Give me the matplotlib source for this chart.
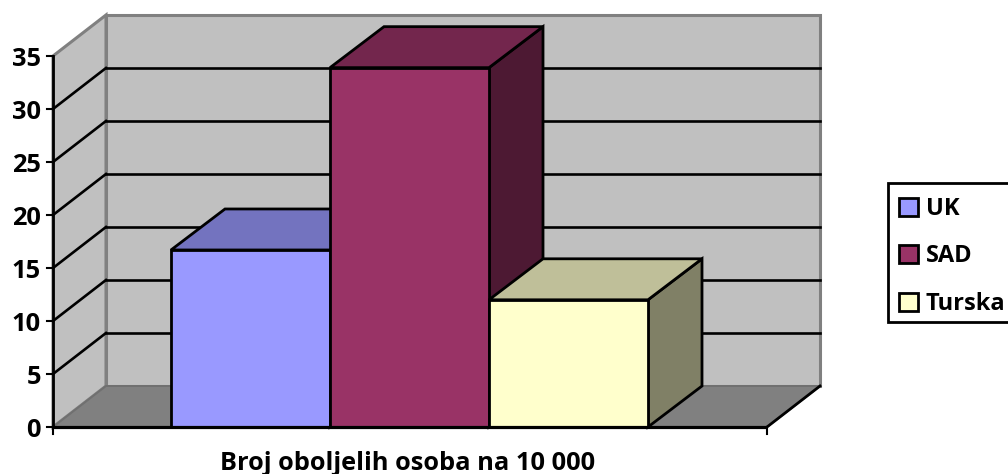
import matplotlib
matplotlib.use('Agg')
import matplotlib.pyplot as plt
from matplotlib.patches import Patch, Polygon, Rectangle

WIDTH_PXL = 1008
HEIGHT_PXL = 474
DPI = 100

# plot frame in pixels
LEFT_PXL = 53
FLOOR_PXL = 427
PLOT_W_PXL = 714
UNIT_PXL = 371 / 35
DEPTH_X_PXL = 53
BAR_DEPTH_X_PXL = 54
DEPTH_Y_PXL = 41

categories = ['UK', 'SAD', 'Turska']
values = [16.7, 33.9, 12.0]
y_ticks = [0, 5, 10, 15, 20, 25, 30, 35]
x_label = 'Broj oboljelih osoba na 10 000'

front_colors = ['#9999FF', '#993366', '#FFFFCC']
top_colors = ['#7373BF', '#73264D', '#BFBF99']
side_colors = ['#4D4D80', '#4D1933', '#808066']

BAR_W = 159 / PLOT_W_PXL
BAR_START = 118 / PLOT_W_PXL
DX = DEPTH_X_PXL / PLOT_W_PXL
BAR_DX = BAR_DEPTH_X_PXL / PLOT_W_PXL
DY = DEPTH_Y_PXL / UNIT_PXL
Y_MAX = y_ticks[-1]
FONT_SIZE = 18.3
BOLD = {'family': ['Open Sans', 'DejaVu Sans'], 'weight': 'bold'}


def poly(ax, pts, color, z=2):
    ax.add_patch(Polygon(pts, closed=True, facecolor=color, edgecolor='black',
                         linewidth=2, joinstyle='miter', zorder=z))


fig = plt.figure(figsize=(WIDTH_PXL / DPI, HEIGHT_PXL / DPI), dpi=DPI)
ax = fig.add_axes([0, 0, 1, 1])
ax.set_xlim(-LEFT_PXL / PLOT_W_PXL, (WIDTH_PXL - LEFT_PXL) / PLOT_W_PXL)
ax.set_ylim(-(HEIGHT_PXL - FLOOR_PXL) / UNIT_PXL, FLOOR_PXL / UNIT_PXL)
ax.axis('off')

# walls and floor
ax.add_patch(Polygon([(DX, DY), (1 + DX, DY), (1 + DX, Y_MAX + DY), (DX, Y_MAX + DY)],
                     facecolor='#C0C0C0', edgecolor='#808080', linewidth=2.2, zorder=1))
ax.add_patch(Polygon([(0, 0), (DX, DY), (DX, Y_MAX + DY), (0, Y_MAX)],
                     facecolor='#C0C0C0', edgecolor='#808080', linewidth=2.2, zorder=1))
ax.add_patch(Polygon([(0, 0), (1, 0), (1 + DX, DY), (DX, DY)],
                     facecolor='#808080', edgecolor='#707070', linewidth=1.4, zorder=1.2))

# grid lines on both walls
for t in y_ticks[1:-1]:
    ax.plot([0, DX], [t, t + DY], color='black', lw=1.9, zorder=1.1)
    ax.plot([DX, 1 + DX], [t + DY, t + DY], color='black', lw=1.9, zorder=1.1)

# axis lines and ticks
ax.plot([0, 0], [0, Y_MAX], color='black', lw=2, zorder=3)
ax.plot([1, 1 + DX], [0, DY], color='black', lw=2, zorder=1.5)
ax.plot([0, 1], [0, 0], color='black', lw=2.3, zorder=3, solid_capstyle='butt')
for t in y_ticks:
    ax.plot([-6 / PLOT_W_PXL, 0], [t, t], color='black', lw=1.5, zorder=3)
    ax.text(-12 / PLOT_W_PXL, t - 3.5 / UNIT_PXL, str(t), ha='right', va='center',
            fontsize=FONT_SIZE, **BOLD)
for x in [0, 1]:
    ax.plot([x, x], [0, -7 / UNIT_PXL], color='black', lw=1.5, zorder=3)

# bars, back to front
for i, (val, fc, tc, sc) in enumerate(zip(values, front_colors, top_colors, side_colors)):
    x0 = BAR_START + i * BAR_W
    x1 = x0 + BAR_W
    poly(ax, [(x1, 0), (x1 + BAR_DX, DY), (x1 + BAR_DX, val + DY), (x1, val)], sc)
    poly(ax, [(x0, val), (x1, val), (x1 + BAR_DX, val + DY), (x0 + BAR_DX, val + DY)], tc)
    poly(ax, [(x0, 0), (x1, 0), (x1, val), (x0, val)], fc)

ax.text(0.497, -36.5 / UNIT_PXL, x_label, ha='center', va='center', fontsize=FONT_SIZE, **BOLD)

# legend box runs off the right edge of the picture
fig.add_artist(Rectangle((888 / WIDTH_PXL, 1 - 322 / HEIGHT_PXL), 140 / WIDTH_PXL, 139 / HEIGHT_PXL,
                         transform=fig.transFigure, facecolor='white', edgecolor='black', linewidth=2))
handles = [Patch(facecolor=c, edgecolor='black', linewidth=2, label=l)
           for c, l in zip(front_colors, categories)]
leg = fig.legend(handles=handles, loc='center left',
                 bbox_to_anchor=(888 / WIDTH_PXL, 1 - 256.5 / HEIGHT_PXL),
                 frameon=False, borderpad=0.45,
                 handlelength=0.8, handleheight=0.8, handletextpad=0.35, labelspacing=1.0,
                 borderaxespad=0, prop={**BOLD, 'size': 17})

fig.savefig('out.png', dpi=DPI)
